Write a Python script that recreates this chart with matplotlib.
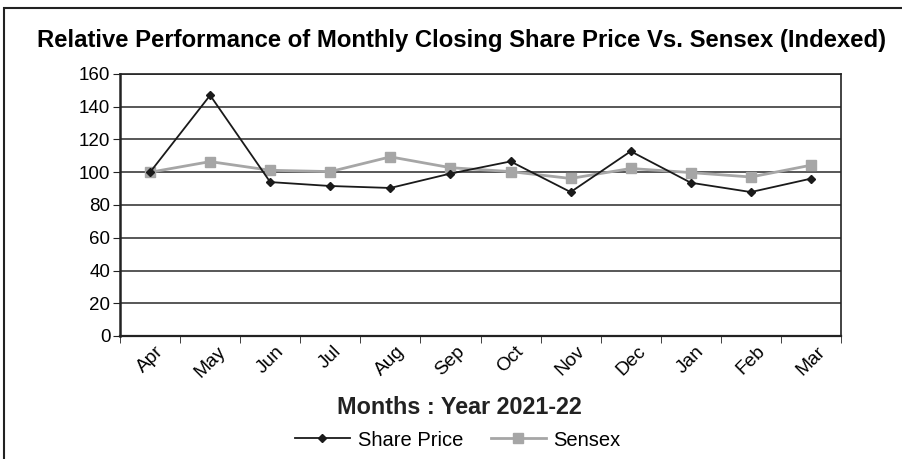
import matplotlib
matplotlib.use("Agg")
import matplotlib.pyplot as plt
from matplotlib.patches import Rectangle
from matplotlib.lines import Line2D

months = ["Apr", "May", "Jun", "Jul", "Aug", "Sep", "Oct", "Nov", "Dec", "Jan", "Feb", "Mar"]
share_price = [100, 147, 94, 91.6, 90.4, 99.2, 106.6, 87.9, 112.8, 93.6, 87.9, 96.1]
sensex = [100, 106.5, 101.2, 100.4, 109.4, 102.8, 100.4, 96.2, 102.3, 99.8, 97.1, 104.3]
yticks = [0, 20, 40, 60, 80, 100, 120, 140, 160]

plt.rcParams['font.family'] = ['Liberation Sans', 'DejaVu Sans']

fig = plt.figure(figsize=(9.02, 4.59), dpi=100)
ax = fig.add_axes([120/902, 1-336/459, (841-120)/902, (336-74)/459])

x = list(range(len(months)))
ax.plot(x, share_price, color='#1a1a1a', lw=1.3, marker='D', ms=4.5, label='Share Price', zorder=4)
ax.plot(x, sensex, color='#a6a6a6', lw=2, marker='s', ms=7, label='Sensex', zorder=3)

ax.set_xlim(-0.5, len(months)-0.5)
ax.set_ylim(0, 160)
ax.set_yticks(yticks)
ax.set_yticklabels([str(v) for v in yticks], fontsize=13.5)
for v in yticks[1:]:
    ax.axhline(v, color='#2a2a2a', lw=1.1, zorder=1)
ax.set_xticks(x)
ax.set_xticklabels(months, rotation=45, fontsize=13.8, ha='center', va='top')
ax.set_xticks([i - 0.5 for i in range(len(months)+1)], minor=True)
ax.tick_params(axis='x', which='major', length=0, pad=5)
ax.tick_params(axis='x', which='minor', length=5, color='#222222')
ax.tick_params(axis='y', length=5, color='#222222', pad=2)
for s in ax.spines.values():
    s.set_color('#222222')
    s.set_linewidth(1.2)
ax.spines['left'].set_linewidth(1.8)
ax.spines['bottom'].set_linewidth(1.6)

fig.text(462/902, 1-40/459, "Relative Performance of Monthly Closing Share Price Vs. Sensex (Indexed)",
         ha='center', va='center', fontsize=17.2, fontweight='bold')
fig.text(459/902, 1-408/459, "Months : Year 2021-22", ha='center', va='center',
         fontsize=16.8, fontweight='bold', color='#222222')

handles = [Line2D([], [], color='#1a1a1a', lw=1.3, marker='D', ms=4.5),
           Line2D([], [], color='#a6a6a6', lw=2, marker='s', ms=7)]
fig.legend(handles, ['Share Price', 'Sensex'], loc='center', bbox_to_anchor=(458/902, 1-440/459),
           ncol=2, frameon=False, fontsize=14.5, handlelength=2.7, columnspacing=1.4, handletextpad=0.4)

fig.add_artist(Rectangle((4/902, -0.1), 1.2, 1.1 - 8/459, transform=fig.transFigure,
                         fill=False, edgecolor='#222222', lw=1.5, clip_on=False))

fig.savefig("out.png", dpi=100)
